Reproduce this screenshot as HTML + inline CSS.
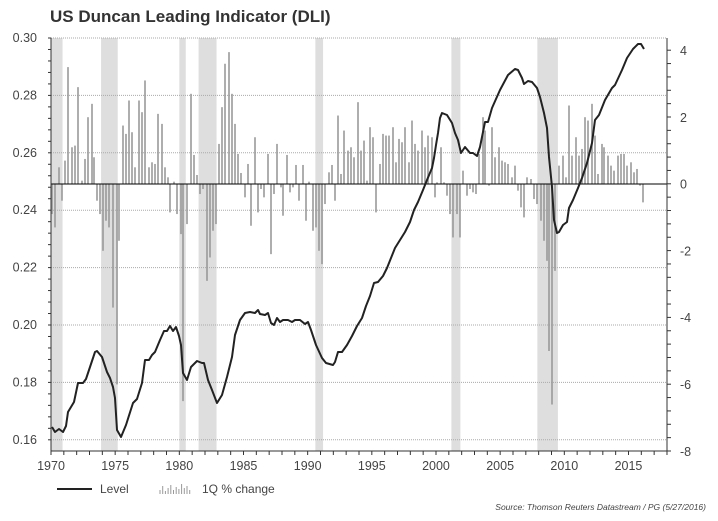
<!DOCTYPE html>
<html><head><meta charset="utf-8">
<style>
html,body{margin:0;padding:0;background:#fff;}
body{width:718px;height:516px;overflow:hidden;font-family:"Liberation Sans",sans-serif;}
</style></head>
<body>
<svg id="s" width="718" height="516" xmlns="http://www.w3.org/2000/svg" font-family="Liberation Sans, sans-serif">
<text x="50" y="22" font-size="17" font-weight="bold" fill="#333">US Duncan Leading Indicator (DLI)</text>
<g id="rec" fill="#dedede"></g>
<g id="grid" stroke="#aaa" stroke-width="1" stroke-dasharray="1,1"></g>
<g id="bars" stroke="#999" stroke-width="1.6"></g>
<line x1="51" y1="184" x2="667" y2="184" stroke="#000" stroke-width="1"/>
<polyline id="lvl" fill="none" stroke="#222" stroke-width="2" stroke-linejoin="round"/>
<g id="axes" stroke="#333" stroke-width="1"></g>
<g id="lbl" font-size="12.5" fill="#444"></g>
<line x1="57" y1="489" x2="92" y2="489" stroke="#222" stroke-width="2"/>
<text x="100" y="493" font-size="12" fill="#444">Level</text>
<g id="leg" stroke="#999" stroke-width="1"></g>
<text x="202" y="493" font-size="12" fill="#444">1Q % change</text>
<text x="706" y="510" font-size="8.5" font-style="italic" fill="#444" text-anchor="end">Source: Thomson Reuters Datastream / PG (5/27/2016)</text>
</svg>
<script>
var NS="http://www.w3.org/2000/svg";
function el(p,t,a,txt){var e=document.createElementNS(NS,t);for(var k in a)e.setAttribute(k,a[k]);if(txt!==undefined)e.textContent=txt;document.getElementById(p).appendChild(e);return e;}
function X(yr){return 51+(yr-1970)*12.833;}
[[1970,1970.9],[1973.9,1975.2],[1980.0,1980.5],[1981.5,1982.9],[1990.6,1991.2],[2001.2,2001.9],[2007.9,2009.5]].forEach(function(r){el("rec","rect",{x:X(r[0]),y:38,width:X(r[1])-X(r[0]),height:413});});
for(var i=0;i<8;i++){var y=38+i*57.4;el("grid","line",{x1:51,y1:y,x2:667,y2:y});}
var B=[[52,-0.9],[55,-1.3],[59,0.5],[62,-0.5],[65,0.7],[68,3.5],[72,1.1],[75,1.15],[78,2.9],[82,0.1],[85,0.75],[88,2.0],[92,2.4],[94,0.8],[97,-0.5],[100,-0.9],[103,-2.0],[106,-1.1],[109,-1.3],[113,-3.7],[117,-6.0],[119,-1.7],[123,1.75],[126,1.5],[129,2.5],[132,1.55],[135,0.5],[139,2.5],[142,2.15],[145,3.1],[149,0.5],[152,0.65],[155,0.6],[158,2.1],[162,1.8],[165,0.5],[168,0.2],
[170,-0.85],[174,0.07],[177,-0.9],[181,-1.5],[183,-6.5],[187,-1.2],[191,2.7],[194,0.87],[197,0.27],[200,-0.3],[203,-0.15],[207,-2.9],[210,-2.2],[213,-1.4],[216,-1.2],[219,1.2],[222,2.3],[225,3.6],[229,3.95],[232,2.7],[235,1.8],[238,0.9],[241,0.33],[245,-0.4],[248,0.6],[251,-1.25],[255,1.4],[258,-0.85],[261,-0.15],[264,-0.4],[268,0.9],[271,-2.1],[274,-0.3],[277,1.2],[281,-0.1],[283,-0.95],[287,0.87],[290,-0.25],[293,-0.1],[296,0.57],[299,-0.5],[303,0.57],[306,-1.1],[309,0.07],[313,-1.4],[316,-1.3],[319,-2.0],[322,-2.4],[325,-0.6],[329,0.35],[332,0.57],[335,-0.5],[338,2.05],[341,0.3],[344,1.6],[348,1.0],[351,1.1],[354,0.8],[358,2.45],[361,1.0],[364,1.3],[367,0.1],[370,1.7],[373,1.4],[376,-0.85],[380,0.6],[383,1.5],[386,1.45],[389,1.45],[393,1.7],[396,0.65],[399,1.35],[402,1.25],[405,1.7],[409,0.65],[412,1.9],[415,1.2],[418,1.0],[422,1.6],[425,1.1],[428,1.45],[432,1.4],[435,-0.4],[437,0.05],[441,1.1],[444,0.05],[447,-0.35],[450,-0.9],[453,-1.6],[457,-0.9],[460,-1.6],[463,0.4],[467,-0.35],[470,-0.15],[473,-0.25],[476,-0.3],[479,0.9],[483,2.0],[485,1.6],[489,-0.05],[492,1.7],[495,0.8],[499,1.1],[502,0.7],[505,0.65],[508,0.6],[512,0.2],[515,0.55],[518,-0.2],[521,-0.7],[524,-1.0],[527,0.2],[531,0.15],[534,-0.45],[537,-0.6],[541,-1.1],[544,-1.7],[547,-2.3],[549,-5.0],[552,-6.6],[555,-2.6],[559,0.55],[563,0.85],[566,0.2],[569,2.35],[572,0.85],[576,1.4],[579,0.85],[582,1.05],[585,2.0],[588,1.9],[592,2.4],[595,1.45],[598,0.3],[602,1.2],[604,1.1],[608,0.85],[611,0.55],[614,0.4],[618,0.85],[621,0.9],[624,0.9],[627,0.55],[631,0.65],[634,0.35],[637,0.45],[640,-0.05],[643,-0.55]];
B.forEach(function(b){el("bars","line",{x1:b[0],x2:b[0],y1:184,y2:184-b[1]*33.4});});
var L=[[52,427],[55,432],[59,429],[63,432],[66,426],[68,412],[74,402],[78,383],[83,383],[86,379],[95,352],[97,351],[102,357],[107,372],[110,378],[113,387],[115,398],[117,430],[121,437],[126,425],[133,403],[137,399],[142,383],[145,360],[149,360],[152,355],[155,352],[160,340],[164,331],[167,331],[170,326],[173,331],[176,327],[179,336],[181,345],[183,373],[187,380],[191,367],[197,361],[202,363],[204,363],[208,380],[212,390],[217,403],[222,395],[227,377],[232,357],[235,335],[240,320],[245,313],[250,312],[255,313],[258,310],[260,314],[265,315],[268,313],[271,323],[274,325],[277,318],[280,322],[283,320],[288,320],[292,322],[295,320],[300,320],[305,324],[308,322],[311,330],[316,345],[322,358],[326,363],[333,365],[335,362],[338,352],[342,352],[347,345],[352,336],[357,326],[362,318],[366,306],[370,296],[374,283],[378,282],[383,276],[387,268],[391,258],[395,248],[400,240],[405,232],[410,222],[414,210],[418,202],[423,190],[427,180],[432,168],[434,158],[436,145],[438,133],[440,118],[442,113],[447,115],[452,123],[455,133],[458,140],[461,153],[465,147],[470,153],[473,153],[477,156],[480,147],[485,122],[488,122],[492,108],[500,90],[508,75],[515,69],[518,70],[522,78],[524,84],[528,81],[532,82],[537,88],[540,97],[544,113],[547,128],[549,157],[552,187],[554,220],[557,233],[559,232],[563,225],[567,222],[569,208],[573,200],[578,188],[582,178],[587,163],[592,143],[595,120],[599,115],[605,100],[612,88],[615,85],[622,70],[627,58],[633,49],[638,44],[641,44],[644,49]];
document.getElementById("lvl").setAttribute("points",L.map(function(p){return p.join(",");}).join(" "));
el("axes","line",{x1:51,y1:38,x2:51,y2:451});
el("axes","line",{x1:667,y1:38,x2:667,y2:451});
el("axes","line",{x1:51,y1:451,x2:667,y2:451});
for(var i=0;i<=36;i++){var y=38+i*11.48;if(y>451)break;el("axes","line",{x1:48,y1:y,x2:51,y2:y});}
for(var i=0;i<=30;i++){var y=451-i*13.36;if(y<38)break;el("axes","line",{x1:667,y1:y,x2:671,y2:y});}
for(var yr=1970;yr<=2018;yr++){el("axes","line",{x1:X(yr),y1:451,x2:X(yr),y2:455});}
["0.30","0.28","0.26","0.24","0.22","0.20","0.18","0.16"].forEach(function(t,i){el("lbl","text",{x:37,y:42+i*57.4,"text-anchor":"end"},t);});
[4,2,0,-2,-4,-6,-8].forEach(function(v,i){el("lbl","text",{x:680,y:55+i*66.8},String(v));});
for(var yr=1970;yr<=2015;yr+=5){el("lbl","text",{x:X(yr),y:470,"text-anchor":"middle"},String(yr));}
[4,8,3,6,9,4,7,5,10,6,8,4].forEach(function(h,i){var x=160+i*2.7;el("leg","line",{x1:x,x2:x,y1:494,y2:494-h});});
</script>
</body></html>
